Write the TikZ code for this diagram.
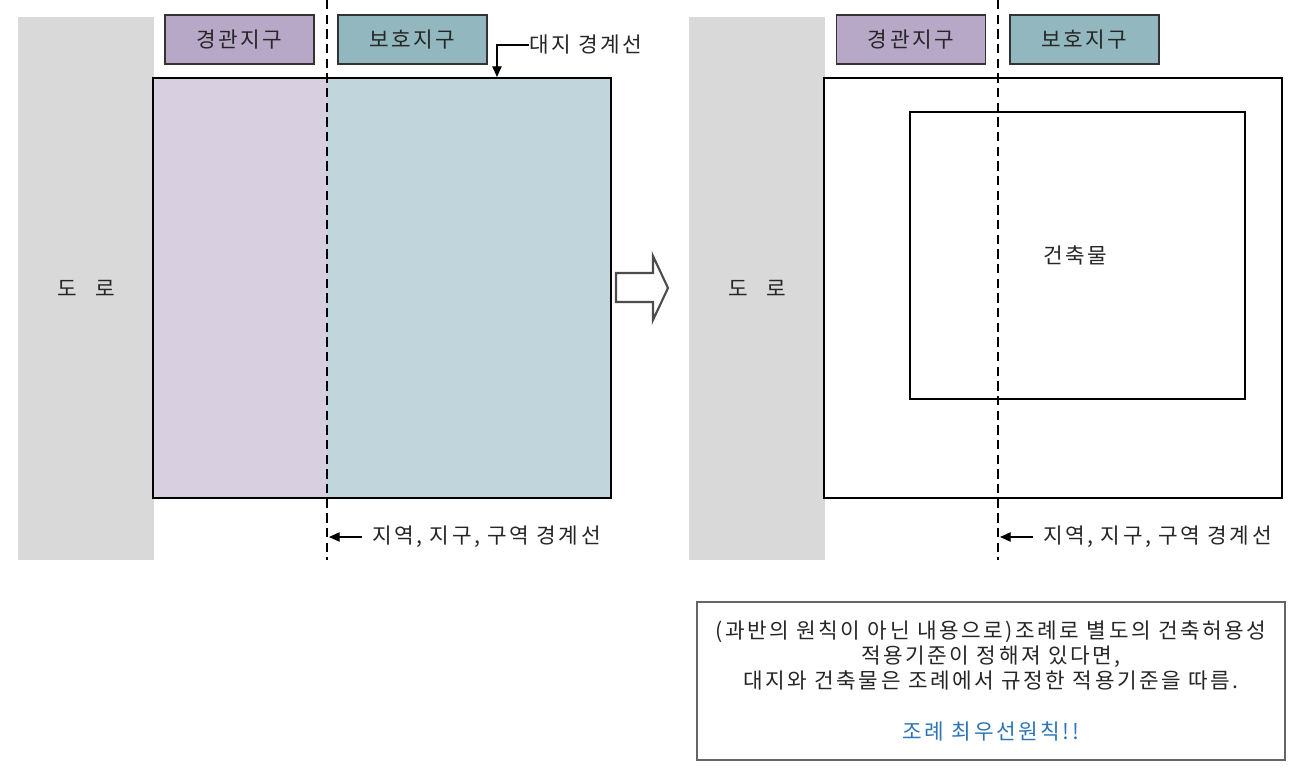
\documentclass[tikz,border=0pt]{standalone}
\usepackage{fontspec}
\setmainfont[LetterSpace=12]{Noto Sans CJK KR}
\usetikzlibrary{arrows.meta}
\definecolor{roadgray}{HTML}{D9D9D9}
\definecolor{lblpurple}{HTML}{B7A8C8}
\definecolor{lblblue}{HTML}{92B7BF}
\definecolor{areapurple}{HTML}{D8CFE0}
\definecolor{areablue}{HTML}{C0D5DC}
\definecolor{notetext}{HTML}{2E75B6}
\begin{document}
\begin{tikzpicture}[x=0.75pt,y=-0.75pt,
  txt/.style={font=\fontsize{16}{18}\selectfont, text=black!85},
  road/.style={fill=roadgray, draw=none, inner sep=0pt, txt, minimum width=136*0.75pt, minimum height=543*0.75pt},
  zonelbl/.style={draw=black!80, line width=1pt, inner sep=0pt, txt, minimum width=149*0.75pt, minimum height=49*0.75pt},
  site/.style={draw=black, line width=2pt, inner sep=0pt, minimum width=458*0.75pt, minimum height=420*0.75pt},
  bldg/.style={draw=black, line width=1.2pt, inner sep=0pt, minimum width=335*0.75pt, minimum height=287*0.75pt},
  bound/.style={draw=black, line width=1.8pt, dash pattern=on 7pt off 4pt},
  callout/.style={draw=black, line width=1pt, -{Triangle[length=8pt,width=7pt]}},
  note/.style={draw=black!60, line width=1.2pt, inner sep=0pt, minimum width=588*0.75pt, minimum height=158*0.75pt}
]
\useasboundingbox (0,0) rectangle (1309,773);

% ---------- left panel ----------
\node[road] (roadL) at (86,288.5) {도\hspace{0.85em}로};
\fill[areapurple] (153,78) rectangle (327,498);
\fill[areablue] (327,78) rectangle (611,498);
\node[site] (siteL) at (382,288) {};
\node[zonelbl, fill=lblpurple] (gkL) at (239.5,39.5) {경관지구};
\node[zonelbl, fill=lblblue] (bhL) at (412.5,39.5) {보호지구};
\coordinate (bTopL) at (327,0);
\coordinate (bBotL) at (327,560);
\draw[bound] (bTopL) -- (bBotL);

\node[txt, anchor=west, inner sep=0pt] (siteLbl) at (529,45) {대지 경계선};
\coordinate (siteArrowEnd) at (497,77);
\draw[callout] (siteLbl.west) -| (siteArrowEnd);

\node[txt, anchor=west, inner sep=0pt] (zoneLblL) at (372,537) {지역, 지구, 구역 경계선};
\coordinate (zoneArrowL) at (329,537);
\draw[callout] (zoneLblL.west) ++(-10,0) coordinate (zsL) -- (zoneArrowL);

% ---------- block arrow ----------
\draw[draw=black!70, line width=1.6pt, fill=white, line join=miter]
  (616,273) -- (653,273) -- (653,256) -- (668,288) -- (653,320) -- (653,302) -- (616,302) -- cycle;

% ---------- right panel ----------
\node[road] (roadR) at (757,288.5) {도\hspace{0.85em}로};
\node[site, fill=white] (siteR) at (1053,288) {};
\node[bldg] (bldgR) at (1077.5,255.5) {};
\node[txt, inner sep=0pt] (bldgLbl) at (1075,255) {건축물};
\node[zonelbl, fill=lblpurple] (gkR) at (911,39.5) {경관지구};
\node[zonelbl, fill=lblblue] (bhR) at (1084.5,39.5) {보호지구};
\coordinate (bTopR) at (998,0);
\coordinate (bBotR) at (998,560);
\draw[bound] (bTopR) -- (bBotR);

\node[txt, anchor=west, inner sep=0pt] (zoneLblR) at (1043,537) {지역, 지구, 구역 경계선};
\coordinate (zoneArrowR) at (1000,537);
\draw[callout] (zoneLblR.west) ++(-10,0) coordinate (zsR) -- (zoneArrowR);

% ---------- note box ----------
\node[note] (noteBox) at (991,681) {};
\node[txt, align=center, anchor=north, inner sep=0pt, font=\fontsize{16}{18.5}\selectfont] (noteTxt) at (991,621)
  {(과반의 원칙이 아닌 내용으로)조례로 별도의 건축허용성\\
   적용기준이 정해져 있다면,\\
   대지와 건축물은 조례에서 규정한 적용기준을 따름.};
\node[txt, text=notetext, inner sep=0pt] (noteEmph) at (991,731) {조례 최우선원칙!!};
\end{tikzpicture}
\end{document}
